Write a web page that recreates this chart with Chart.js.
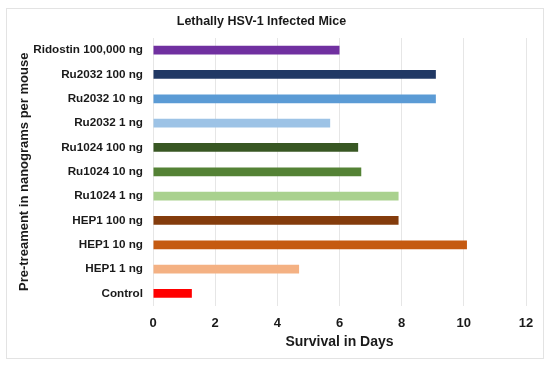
<!DOCTYPE html>
<html lang="en">
  <head>
    <meta charset="UTF-8" />
    <title>Lethally HSV-1 Infected Mice</title>
    <script src="https://cdn.jsdelivr.net/npm/chart.js"></script>
    <style>
      body { margin: 0; background: #fff; }
      .frame {
        position: absolute; left: 6px; top: 8px; width: 536px; height: 349px;
        border: 1px solid #e3e3e3;
      }
      .box { position: absolute; left: 0; top: 0; width: 550px; height: 365px; }
    </style>
  </head>
  <body>
    <div class="frame"></div>
    <div class="box"><canvas id="myCanvas"></canvas></div>
  </body>
</html>
<script>
  // categories (top to bottom) and survival days
  const tratamentos = [
    "Ridostin 100,000 ng",
    "Ru2032 100 ng",
    "Ru2032 10 ng",
    "Ru2032 1 ng",
    "Ru1024 100 ng",
    "Ru1024 10 ng",
    "Ru1024 1 ng",
    "HEP1 100 ng",
    "HEP1 10 ng",
    "HEP1 1 ng",
    "Control",
  ];
  const diasSobrevida = [6.0, 9.1, 9.1, 5.7, 6.6, 6.7, 7.9, 7.9, 10.1, 4.7, 1.25];
  const cores = [
    "#7030A0", "#203864", "#5B9BD5", "#9DC3E6", "#385723", "#548235",
    "#A9D18E", "#843C0C", "#C55A11", "#F4B183", "#FF0000",
  ];
  const ticksX = [0, 2, 4, 6, 8, 10, 12];

  const fonte = "'Liberation Sans', Arial, sans-serif";

  // o titulo fica um pouco a esquerda do centro no original
  const deslocaTitulo = {
    id: "deslocaTitulo",
    afterLayout(chart) {
      if (chart.titleBlock) {
        chart.titleBlock.left -= 10;
        chart.titleBlock.right -= 10;
      }
    },
  };

  const config = {
    type: "bar",
    data: {
      labels: tratamentos,
      datasets: [
        {
          data: diasSobrevida,
          backgroundColor: cores,
          borderWidth: 0,
          categoryPercentage: 1,
          barPercentage: 0.36,
        },
      ],
    },
    options: {
      indexAxis: "y",
      responsive: false,
      animation: false,
      layout: { padding: { top: 14, right: 24, left: 17, bottom: 14 } },
      plugins: {
        legend: { display: false },
        tooltip: { enabled: false },
        title: {
          display: true,
          text: "Lethally HSV-1 Infected Mice",
          color: "#1a1a1a",
          font: { family: fonte, size: 12.5, weight: "bold" },
          padding: { top: 0, bottom: 9 },
        },
      },
      scales: {
        x: {
          min: 0,
          max: 12,
          afterBuildTicks: (axis) => {
            axis.ticks = ticksX.map((v) => ({ value: v }));
          },
          grid: { color: "#e6e6e6", drawTicks: false },
          border: { display: false },
          ticks: {
            color: "#1a1a1a",
            padding: 10,
            font: { family: fonte, size: 13, weight: "bold" },
          },
          title: {
            display: true,
            text: "Survival in Days",
            color: "#1a1a1a",
            font: { family: fonte, size: 14, weight: "bold" },
            padding: { top: -7, bottom: 0 },
          },
        },
        y: {
          afterFit: (axis) => {
            axis.width = 136;
          },
          grid: { display: false, drawTicks: false },
          border: { display: false },
          ticks: {
            color: "#1a1a1a",
            padding: 10,
            font: { family: fonte, size: 11.7, weight: "bold" },
          },
          title: {
            display: true,
            text: "Pre-treament in nanograms per mouse",
            color: "#1a1a1a",
            font: { family: fonte, size: 13, weight: "bold" },
            padding: { top: 0, bottom: 0 },
          },
        },
      },
    },
    plugins: [deslocaTitulo],
  };

  const canvas = document.getElementById("myCanvas");
  canvas.width = 550;
  canvas.height = 365;
  new Chart(canvas, config);
</script>
